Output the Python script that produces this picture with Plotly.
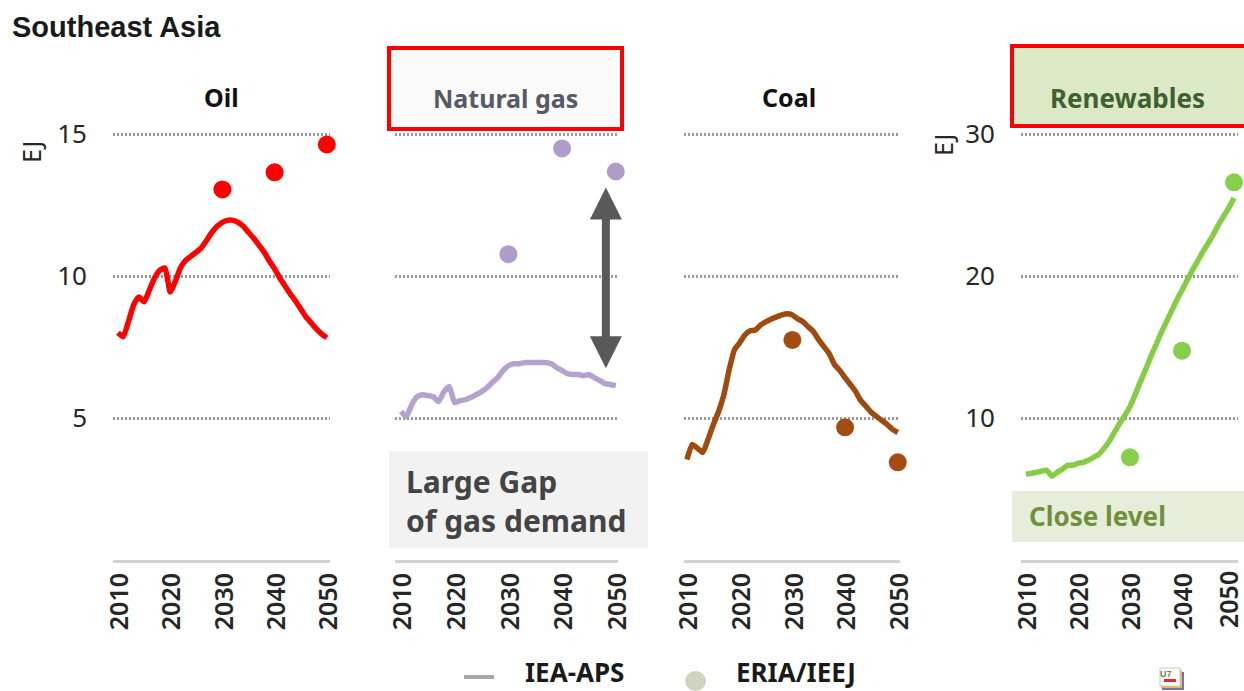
import plotly.graph_objects as go

W, H = 1244, 691

years = list(range(2010, 2051))
eria_years = [2030, 2040, 2050]

oil_aps = [8.0, 7.86, 8.39, 8.98, 9.26, 9.09, 9.5, 9.93, 10.2, 10.28, 9.44, 9.82, 10.3, 10.56, 10.7, 10.84,
           11.0, 11.26, 11.54, 11.75, 11.89, 11.96, 11.96, 11.89, 11.75, 11.54, 11.33, 11.09, 10.84, 10.53,
           10.25, 9.93, 9.65, 9.37, 9.12, 8.84, 8.56, 8.35, 8.14, 7.96, 7.82]
gas_aps = [5.23, 5.05, 5.47, 5.75, 5.82, 5.79, 5.75, 5.58, 5.93, 6.1, 5.54, 5.61, 5.65, 5.72, 5.82, 5.93,
           6.07, 6.25, 6.42, 6.67, 6.84, 6.91, 6.91, 6.95, 6.95, 6.95, 6.95, 6.95, 6.91, 6.77,
           6.67, 6.56, 6.53, 6.53, 6.49, 6.53, 6.42, 6.32, 6.21, 6.18, 6.14]
coal_aps = [3.54, 4.07, 3.93, 3.79, 4.25, 4.77, 5.23, 5.82, 6.7, 7.4, 7.65, 7.93, 8.07, 8.1, 8.28, 8.39,
            8.49, 8.56, 8.63, 8.67, 8.63, 8.49, 8.39, 8.21, 8.04, 7.75, 7.51, 7.26, 6.88, 6.67,
            6.42, 6.18, 5.93, 5.61, 5.4, 5.19, 5.05, 4.91, 4.77, 4.6, 4.49]
renew_aps = [6.04, 6.1, 6.18, 6.25, 6.32, 5.9, 6.18, 6.39, 6.67, 6.67, 6.81, 6.88, 7.02, 7.23, 7.44, 7.86,
             8.35, 8.98, 9.61, 10.18, 10.81, 11.65, 12.56, 13.4, 14.32, 15.16, 16.0, 16.77, 17.54, 18.3,
             19.0, 19.7, 20.4, 21.05, 21.7, 22.3, 22.9, 23.6, 24.2, 24.8, 25.5]

oil_eria = [13.05, 13.65, 14.63]
gas_eria = [10.77, 14.49, 13.68]
coal_eria = [7.75, 4.67, 3.44]
renew_eria = [7.23, 14.74, 26.6]

y_ticks_small = [5, 10, 15]
y_ticks_large = [10, 20, 30]
x_ticks = [2010, 2020, 2030, 2040, 2050]

SANS = "Noto Sans"
INK = "#262626"
Y_ZERO, Y_TOP_TICK, Y_EDGE = 560, 134, 120
TICK_FONT = dict(family=SANS, size=25, color=INK, weight=600)


def px(x):
    return x / W


def py(y):
    return 1 - y / H


# Each panel: series, colours, pixel position of 2010, pixels per year, plot edges, y ticks
panels = [
    (oil_aps, oil_eria, "#ff0000", "#ff0000", 118, 5.22, 113, 330, y_ticks_small),
    (gas_aps, gas_eria, "#b5a2cf", "#b09ccb", 401, 5.37, 395, 618, y_ticks_small),
    (coal_aps, coal_eria, "#9e4a10", "#a44c12", 687, 5.27, 684, 900, y_ticks_small),
    (renew_aps, renew_eria, "#86cc46", "#85cf4a", 1026, 5.2, 1021, 1238, y_ticks_large),
]

fig = go.Figure()
layout = {}

for i, (aps, eria, line_col, dot_col, x2010, per_year, left, right, yticks) in enumerate(panels, start=1):
    xa, ya = f"x{i}", f"y{i}"
    fig.add_trace(go.Scatter(x=years, y=aps, mode="lines", xaxis=xa, yaxis=ya, showlegend=False,
                             line=dict(color=line_col, width=5.5, shape="spline", smoothing=0.5),
                             cliponaxis=False))
    fig.add_trace(go.Scatter(x=eria_years, y=eria, mode="markers", xaxis=xa, yaxis=ya, showlegend=False,
                             marker=dict(color=dot_col, size=18), cliponaxis=False))
    # The right-hand panel's last year label sits against the page edge, so it is placed separately below
    shown_ticks = x_ticks[:-1] if i == 4 else x_ticks
    layout[f"xaxis{i}"] = dict(
        domain=[px(left), px(right)],
        range=[2010 + (left - x2010) / per_year, 2010 + (right - x2010) / per_year],
        anchor=ya, tickvals=shown_ticks, tickangle=-90, showgrid=False, zeroline=False, automargin=False,
        showline=True, linecolor="#d2d2d2", linewidth=3, ticks="", ticklabelstandoff=0,
        ticklabelshift=2, tickfont=TICK_FONT,
    )
    # The scale runs a little past the top tick so its dotted gridline is still drawn
    top_value = yticks[-1] * (Y_ZERO - Y_EDGE) / (Y_ZERO - Y_TOP_TICK)
    layout[f"yaxis{i}"] = dict(
        domain=[py(Y_ZERO), py(Y_EDGE)], range=[0, top_value], anchor=xa, tickvals=yticks,
        showgrid=True, gridcolor="#999999", griddash="2px,2px", gridwidth=3, automargin=False,
        zeroline=False, showline=False, ticks="", ticklabelstandoff=25,
        showticklabels=i in (1, 4), tickfont=dict(family=SANS, size=26, color=INK),
    )

fig.update_layout(
    width=W, height=H, margin=dict(l=0, r=0, t=0, b=0),
    paper_bgcolor="white", plot_bgcolor="rgba(0,0,0,0)", showlegend=False, **layout,
)


def box(x0, y0, x1, y1, fill=None, edge=None, lw=0):
    fig.add_shape(type="rect", xref="paper", yref="paper", x0=px(x0), x1=px(x1), y0=py(y0), y1=py(y1),
                  fillcolor=fill or "rgba(0,0,0,0)", line=dict(color=edge or "rgba(0,0,0,0)", width=lw))


def label(text, x, y, size, color=INK, family=SANS, bold=False, anchor="center", angle=0):
    shown = f"<b>{text}</b>" if bold else text
    fig.add_annotation(text=shown, xref="paper", yref="paper", x=px(x), y=py(y), showarrow=False,
                       xanchor=anchor, yanchor="middle", textangle=angle, align="left",
                       font=dict(family=family, size=size, color=color))


# Header and highlight boxes
box(389, 48, 622, 129, fill="#fafafa", edge="#ff0000", lw=4)
box(1012, 46, 1250, 126, fill="#dbe9c6", edge="#ff0000", lw=4)
box(389, 451, 648, 548, fill="#f2f2f2")
box(1012, 491, 1244, 542, fill="#e6eedb")

label("Southeast Asia", 10, 27, 29, color="#1a1a1a", family="Liberation Sans", bold=True, anchor="left")
label("Oil", 221, 97, 25, color="#111111", bold=True)
label("Natural gas", 505, 98, 25, color="#555b66", bold=True)
label("Coal", 789, 97, 25, color="#111111", bold=True)
label("Renewables", 1127, 98, 26, color="#3f6130", bold=True)
label("EJ", 31, 152, 25, angle=-90)
label("EJ", 943, 145, 25, angle=-90)
label("Large Gap<br>of gas demand", 404, 501, 30, color="#444444", bold=True, anchor="left")
label("Close level", 1027, 516, 26, color="#70903a", bold=True, anchor="left")

# Last year label of the renewables panel
fig.add_annotation(text="2050", xref="paper", yref="paper", x=px(1228), y=py(600), showarrow=False,
                   textangle=-90, xanchor="center", yanchor="middle", font=TICK_FONT)

# Double-headed arrow spanning the gas demand gap
fig.add_annotation(xref="x2", yref="y2", axref="x2", ayref="y2", x=2048.15, y=13.12, ax=2048.15, ay=6.7,
                   text="", showarrow=True, arrowside="end+start", arrowhead=2, startarrowhead=2,
                   arrowsize=0.8, startarrowsize=0.8, arrowwidth=8, arrowcolor="#595959")

# Legend
fig.add_shape(type="line", xref="paper", yref="paper", x0=px(464), x1=px(494), y0=py(677), y1=py(677),
              line=dict(color="#a8a8a8", width=4))
label("IEA-APS", 523, 672, 26, color="#1a1a1a", bold=True, anchor="left")
fig.add_shape(type="circle", xref="paper", yref="paper", x0=px(685), x1=px(706), y0=py(671), y1=py(691),
              fillcolor="#d0d3bf", line=dict(width=0))
label("ERIA/IEEJ", 734, 672, 26, color="#1a1a1a", bold=True, anchor="left")

# Small summit badge in the corner
box(1162, 672, 1184, 690, fill="#7d6fb0")
box(1161, 670, 1182, 688, fill="#e8b85a")
box(1160, 668, 1180, 686, fill="#ffffff", edge="#c8c8c8", lw=1)
box(1164, 679, 1176, 682, fill="#d83030")
label("U7", 1166, 674, 9, color="#8a7a3a", family="Liberation Sans", bold=True)

fig.write_html("out.html")
